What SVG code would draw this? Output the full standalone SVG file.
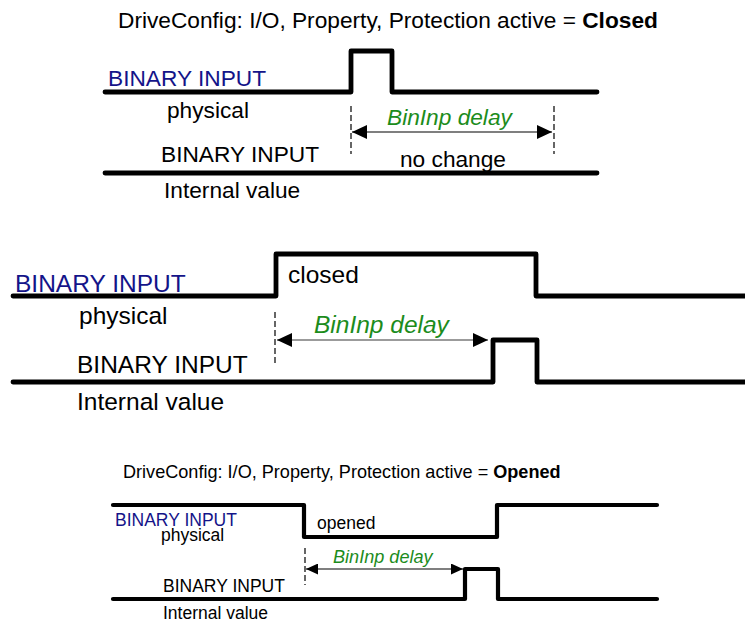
<svg xmlns="http://www.w3.org/2000/svg" width="745" height="623" viewBox="0 0 745 623">
  <style>
    text { font-family: "Liberation Sans", Arial, Helvetica, sans-serif; fill: #000; }
    .sig { fill: none; stroke: #000; stroke-linejoin: round; stroke-linecap: round; }
    .w5 { stroke-width: 4.8; }
    .w4 { stroke-width: 4.2; }
    .dash { fill: none; stroke: #000; stroke-width: 1.2; stroke-dasharray: 6 3; }
    .dim { fill: none; stroke: #000; stroke-width: 1.2; }
    .dimgray { fill: none; stroke: #7a7a7a; stroke-width: 1.6; }
    .blue { fill: #141489; }
    .green { fill: #1c8c1c; font-style: italic; }
    .b { font-weight: bold; }
    .f22 { font-size: 22.7px; }
    .f24 { font-size: 24.5px; }
    .f17 { font-size: 17.5px; }
    .f18 { font-size: 18.1px; }
  </style>
  <defs>
    <marker id="headL" viewBox="-15 -7 15 14" refX="0" refY="0" markerWidth="15" markerHeight="14" markerUnits="userSpaceOnUse" orient="auto-start-reverse">
      <path d="M0,0 L-15,-7 L-15,7 Z" fill="#000"/>
    </marker>
    <marker id="headS" viewBox="-12 -5.5 12 11" refX="0" refY="0" markerWidth="12" markerHeight="11" markerUnits="userSpaceOnUse" orient="auto-start-reverse">
      <path d="M0,0 L-12,-5.5 L-12,5.5 Z" fill="#000"/>
    </marker>
  </defs>

  <!-- Panel 1: protection active = Closed, short pulse gives no change -->
  <g id="panel-closed-short">
    <text class="f22" x="118" y="28">DriveConfig: I/O, Property, Protection active = <tspan class="b">Closed</tspan></text>
    <g id="p1-physical">
      <path class="sig w5" d="M105,92 H351 V51 H392 V92 H597"/>
      <text class="f22 blue" x="108" y="86">BINARY INPUT</text>
      <text class="f22" x="167" y="118">physical</text>
    </g>
    <g id="p1-internal">
      <path class="sig w5" d="M105,173 H597"/>
      <text class="f22" x="161" y="162">BINARY INPUT</text>
      <text class="f22" x="164" y="198">Internal value</text>
      <text class="f22" x="400" y="167">no change</text>
    </g>
    <g id="p1-delay">
      <line class="dash" x1="351" y1="106" x2="351" y2="154"/>
      <line class="dash" x1="554" y1="106" x2="554" y2="154"/>
      <line class="dim" x1="352" y1="132" x2="552" y2="132" marker-start="url(#headL)" marker-end="url(#headL)"/>
      <text class="f22 green" x="387" y="125">BinInp delay</text>
    </g>
  </g>

  <!-- Panel 2: long closed level is passed through after the delay -->
  <g id="panel-closed-long">
    <g id="p2-physical">
      <path class="sig w5" d="M13,296 H276 V254 H536 V296 H745"/>
      <text class="f24 blue" x="15" y="292">BINARY INPUT</text>
      <text class="f24" x="288" y="283">closed</text>
      <text class="f24" x="79" y="324">physical</text>
    </g>
    <g id="p2-internal">
      <path class="sig w5" d="M13,382 H493 V340 H537 V382 H745"/>
      <text class="f24" x="77" y="373">BINARY INPUT</text>
      <text class="f24" x="77" y="410">Internal value</text>
    </g>
    <g id="p2-delay">
      <line class="dash" x1="275" y1="312" x2="275" y2="363"/>
      <line class="dimgray" x1="277" y1="340" x2="488" y2="340" marker-start="url(#headL)" marker-end="url(#headL)"/>
      <text class="f24 green" x="314" y="333">BinInp delay</text>
    </g>
  </g>

  <!-- Panel 3: protection active = Opened -->
  <g id="panel-opened">
    <text class="f18" x="123" y="478">DriveConfig: I/O, Property, Protection active = <tspan class="b">Opened</tspan></text>
    <g id="p3-physical">
      <path class="sig w4" d="M113,505 H304 V537 H497 V505 H657"/>
      <text class="f17 blue" x="115" y="526">BINARY INPUT</text>
      <text class="f17" x="161" y="541">physical</text>
      <text class="f17" x="317" y="529">opened</text>
    </g>
    <g id="p3-internal">
      <path class="sig w4" d="M113,599 H465 V569 H498 V599 H657"/>
      <text class="f17" x="163" y="592">BINARY INPUT</text>
      <text class="f17" x="163" y="619">Internal value</text>
    </g>
    <g id="p3-delay">
      <line class="dash" x1="305" y1="548" x2="305" y2="585"/>
      <line class="dim" x1="306" y1="569" x2="463" y2="569" marker-start="url(#headS)" marker-end="url(#headS)"/>
      <text class="f18 green" x="333" y="563">BinInp delay</text>
    </g>
  </g>
</svg>
